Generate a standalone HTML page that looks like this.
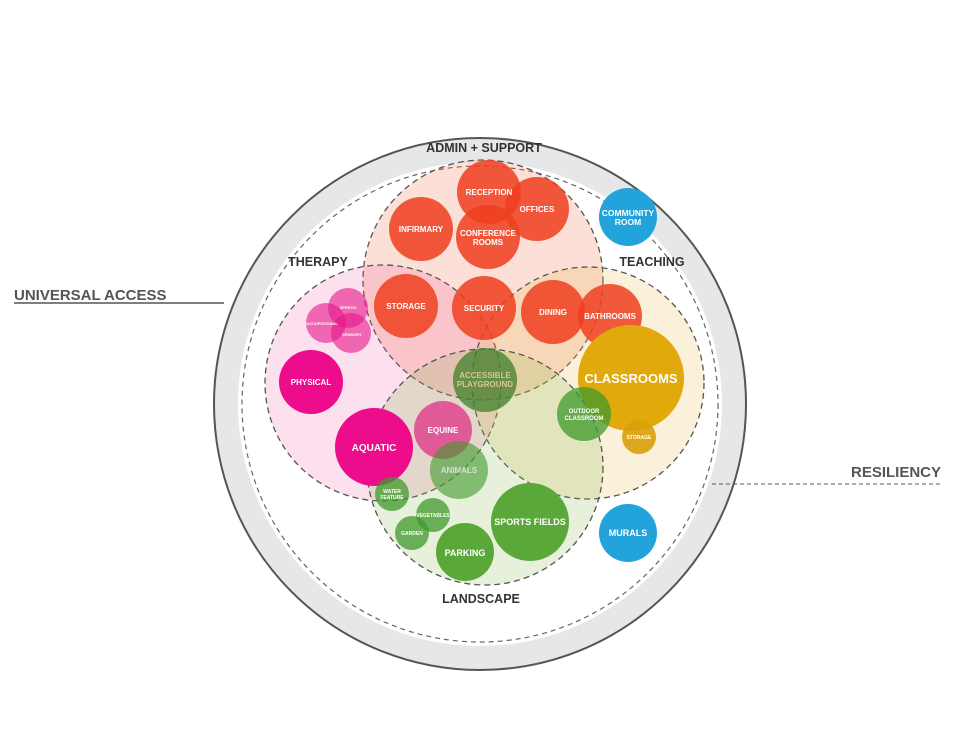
<!DOCTYPE html>
<html><head><meta charset="utf-8"><style>
html,body{margin:0;padding:0;background:#fff;}
svg{display:block;}
text{font-family:"Liberation Sans",sans-serif;font-weight:bold;text-anchor:middle;}
</style></head><body>
<svg width="960" height="735" viewBox="0 0 960 735">
<circle cx="480" cy="404" r="254" fill="none" stroke="#e6e7e8" stroke-width="24"/>
<circle cx="480" cy="404" r="266" fill="none" stroke="#555" stroke-width="2"/>
<circle cx="480" cy="404" r="238" fill="none" stroke="#666" stroke-width="1.2" stroke-dasharray="5,4"/>
<g stroke="#555" stroke-width="1.3" stroke-dasharray="6,4">
<circle cx="483" cy="280" r="120" fill="rgba(240,110,70,0.22)"/>
<circle cx="383" cy="383" r="118" fill="rgba(236,60,150,0.16)"/>
<circle cx="588" cy="383" r="116" fill="rgba(235,185,80,0.22)"/>
<circle cx="485" cy="467" r="118" fill="rgba(130,180,70,0.2)"/>
</g>
<g fill="#ef3e1e" fill-opacity="0.85">
<circle cx="489" cy="192" r="32"/><circle cx="537" cy="209" r="32"/>
<circle cx="421" cy="229" r="32"/><circle cx="488" cy="237" r="32"/>
<circle cx="406" cy="306" r="32"/><circle cx="484" cy="308" r="32"/>
<circle cx="553" cy="312" r="32"/><circle cx="610" cy="316" r="32"/>
</g>
<g fill="#e6158a" fill-opacity="0.6">
<circle cx="348" cy="308" r="20"/><circle cx="326" cy="323" r="20"/><circle cx="351" cy="333" r="20"/>
</g>
<circle cx="311" cy="382" r="32" fill="#ec0c8c"/>
<circle cx="374" cy="447" r="39" fill="#ec0c8c"/>
<circle cx="443" cy="430" r="29" fill="#e0448e" fill-opacity="0.85"/>
<circle cx="631" cy="378" r="53" fill="#e2a90c"/>
<circle cx="639" cy="437" r="17" fill="#d9a00a" fill-opacity="0.9"/>
<g fill="#3f9a2c" fill-opacity="0.75">
<circle cx="485" cy="380" r="32" fill="#3f7f2a"/>
<circle cx="584" cy="414" r="27"/>
<circle cx="459" cy="470" r="29" fill-opacity="0.6"/>
<circle cx="392" cy="494" r="17"/>
<circle cx="433" cy="515" r="17"/>
<circle cx="412" cy="533" r="17"/>
</g>
<circle cx="465" cy="552" r="29" fill="#5aa83a"/>
<circle cx="530" cy="522" r="39" fill="#5aa83a"/>
<circle cx="628" cy="217" r="29" fill="#22a3dc"/>
<circle cx="628" cy="533" r="29" fill="#22a3dc"/>
<g fill="#fff" font-size="8">
<text x="489" y="195">RECEPTION</text><text x="537" y="212">OFFICES</text>
<text x="421" y="232">INFIRMARY</text><text x="488" y="236">CONFERENCE</text><text x="488" y="245">ROOMS</text>
<text x="406" y="309">STORAGE</text><text x="484" y="311">SECURITY</text>
<text x="553" y="315">DINING</text><text x="610" y="319">BATHROOMS</text>
<text x="311" y="385">PHYSICAL</text>
<text x="374" y="451" font-size="10">AQUATIC</text>
<text x="443" y="433">EQUINE</text>
<text x="459" y="473" fill="#ddd">ANIMALS</text>
<text x="485" y="378" fill="#d8c690">ACCESSIBLE</text><text x="485" y="387" fill="#d8c690">PLAYGROUND</text>
<text x="584" y="413" font-size="6">OUTDOOR</text><text x="584" y="420" font-size="6">CLASSROOM</text>
<text x="639" y="439" font-size="5">STORAGE</text>
<text x="348" y="309" font-size="4">SPEECH</text><text x="322" y="325" font-size="4">OCCUPATIONAL</text><text x="352" y="336" font-size="4">SENSORY</text>
<text x="392" y="493" font-size="5">WATER</text><text x="392" y="499" font-size="5">FEATURE</text>
<text x="433" y="517" font-size="5">VEGETABLES</text><text x="412" y="535" font-size="5">GARDEN</text>
<text x="465" y="556" font-size="9">PARKING</text>
<text x="530" y="525" font-size="9">SPORTS FIELDS</text>
<text x="631" y="383" font-size="13">CLASSROOMS</text>
<text x="628" y="216" font-size="8.5">COMMUNITY</text><text x="628" y="225" font-size="8.5">ROOM</text>
<text x="628" y="536" font-size="9">MURALS</text>
</g>
<g fill="#333" font-size="12.5">
<text x="484" y="152">ADMIN + SUPPORT</text>
<text x="318" y="266">THERAPY</text>
<text x="652" y="266">TEACHING</text>
<text x="481" y="603">LANDSCAPE</text>
</g>
<text x="14" y="300" font-size="15" fill="#555" style="text-anchor:start">UNIVERSAL ACCESS</text>
<line x1="14" y1="303" x2="224" y2="303" stroke="#555" stroke-width="1.5"/>
<text x="941" y="477" font-size="15" fill="#555" style="text-anchor:end">RESILIENCY</text>
<line x1="712" y1="484" x2="941" y2="484" stroke="#555" stroke-width="1" stroke-dasharray="4,3"/>
</svg>
</body></html>
